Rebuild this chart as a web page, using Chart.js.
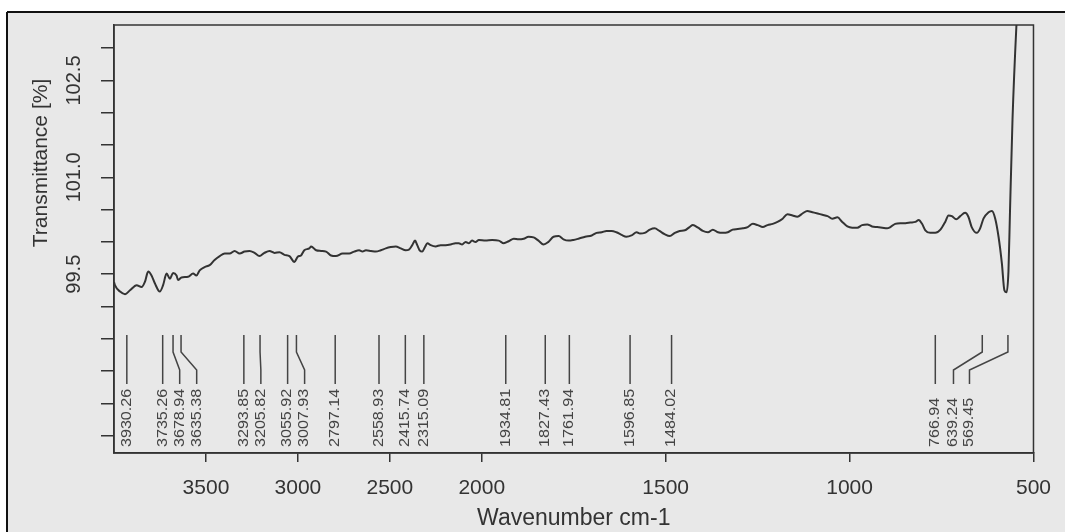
<!DOCTYPE html>
<html>
<head>
<meta charset="utf-8">
<script src="https://cdn.jsdelivr.net/npm/chart.js@4.4.0/dist/chart.umd.min.js"></script>
<style>
  body { margin: 0; background: #fff; }
  #wrap { width: 1065px; height: 532px; }
</style>
</head>
<body>
<div id="wrap"><canvas id="ir" width="1065" height="532"></canvas></div>
<script>
// spectrum (wavenumber cm-1 / transmittance %)
var wavenumber = [4000, 3995, 3967, 3940, 3913, 3877, 3850, 3832, 3814, 3796, 3778, 3751, 3733, 3714, 3696, 3679, 3660, 3652, 3633, 3597,
  3570, 3552, 3534, 3507, 3480, 3453, 3425, 3398, 3371, 3344, 3317, 3290, 3263, 3236, 3209, 3182, 3154, 3127, 3100, 3073,
  3046, 3019, 3001, 2983, 2965, 2938, 2928, 2901, 2874, 2847, 2820, 2793, 2757, 2721, 2694, 2667, 2649, 2630, 2603, 2576,
  2549, 2522, 2495, 2468, 2441, 2414, 2396, 2378, 2363, 2351, 2338, 2324, 2309, 2296, 2278, 2251, 2224, 2197, 2170, 2143,
  2125, 2107, 2088, 2070, 2053, 2034, 2016, 1990, 1972, 1954, 1940, 1927, 1913, 1900, 1886, 1873, 1859, 1846, 1832, 1819,
  1805, 1791, 1778, 1764, 1751, 1737, 1719, 1701, 1688, 1674, 1661, 1647, 1634, 1620, 1607, 1593, 1579, 1570, 1557, 1543,
  1530, 1517, 1503, 1489, 1475, 1462, 1448, 1435, 1426, 1412, 1399, 1385, 1372, 1358, 1345, 1331, 1318, 1304, 1290, 1277,
  1263, 1250, 1236, 1223, 1209, 1196, 1182, 1169, 1155, 1142, 1128, 1115, 1101, 1087, 1074, 1060, 1047, 1033, 1020, 1006,
  993, 979, 966, 952, 939, 925, 911, 898, 889, 876, 862, 848, 835, 821, 812, 803, 794, 781, 767, 753,
  740, 731, 722, 710, 699, 686, 677, 668, 654, 645, 636, 622, 613, 604, 595, 586, 579, 573, 568, 564,
  557, 546, 540, 500]
var transmittance = [99.38, 99.33, 99.23, 99.19, 99.25, 99.33, 99.30, 99.38, 99.54, 99.48, 99.36, 99.23, 99.33, 99.51, 99.43, 99.52, 99.48, 99.41, 99.45, 99.46,
  99.51, 99.48, 99.56, 99.61, 99.64, 99.72, 99.78, 99.82, 99.82, 99.86, 99.82, 99.85, 99.86, 99.83, 99.78, 99.83, 99.86, 99.83, 99.84, 99.80,
  99.78, 99.69, 99.77, 99.79, 99.87, 99.90, 99.93, 99.87, 99.86, 99.85, 99.79, 99.78, 99.82, 99.82, 99.85, 99.87, 99.85, 99.87, 99.86, 99.85,
  99.87, 99.90, 99.92, 99.93, 99.90, 99.87, 99.88, 99.95, 100.02, 99.95, 99.87, 99.85, 99.92, 99.98, 99.95, 99.93, 99.95, 99.95, 99.96, 99.98,
  99.98, 99.96, 100.00, 99.98, 100.02, 100.00, 100.03, 100.02, 100.03, 100.02, 99.98, 100.01, 100.05, 100.04, 100.05, 100.08, 100.07, 100.02, 99.96, 100.00,
  100.08, 100.09, 100.04, 100.02, 100.03, 100.05, 100.08, 100.10, 100.14, 100.15, 100.17, 100.17, 100.15, 100.11, 100.08, 100.10, 100.15, 100.13, 100.14, 100.19,
  100.21, 100.17, 100.12, 100.09, 100.14, 100.17, 100.18, 100.23, 100.26, 100.22, 100.17, 100.15, 100.19, 100.15, 100.14, 100.15, 100.19, 100.20, 100.21, 100.23,
  100.28, 100.26, 100.23, 100.26, 100.28, 100.31, 100.36, 100.43, 100.41, 100.39, 100.44, 100.48, 100.46, 100.44, 100.42, 100.40, 100.36, 100.38, 100.31, 100.24,
  100.22, 100.22, 100.26, 100.27, 100.24, 100.23, 100.22, 100.21, 100.23, 100.28, 100.29, 100.29, 100.30, 100.31, 100.34, 100.28, 100.18, 100.14, 100.14, 100.19,
  100.31, 100.41, 100.40, 100.35, 100.40, 100.45, 100.39, 100.23, 100.14, 100.21, 100.36, 100.46, 100.48, 100.36, 100.08, 99.67, 99.25, 99.22, 99.55, 100.44,
  101.90, 103.40, 104.00, 104.00]

var peaks = [3930.26, 3735.26, 3678.94, 3635.38, 3293.85, 3205.82, 3055.92, 3007.93, 2797.14, 2558.93, 2415.74, 2315.09,
  1934.81, 1827.43, 1761.94, 1596.85, 1484.02, 766.94, 639.24, 569.45]

var xTicks = [3500, 3000, 2500, 2000, 1500, 1000, 500]
var yTicks = [97.0, 97.5, 98.0, 98.5, 99.0, 99.5, 100.0, 100.5, 101.0, 101.5, 102.0, 102.5, 103.0]
var yLabels = [99.5, 101.0, 102.5]

var xTitle = 'Wavenumber cm-1'
var yTitle = 'Transmittance [%]'

// the printout halves the scale above 2000 cm-1
function toU(w) {
    return w >= 2000 ? (4000 - w) / 2 : 1000 + (2000 - w)
}
function fromU(u) {
    return u <= 1000 ? 4000 - 2 * u : 2000 - (u - 1000)
}

var points = []
for (var i = 0; i < wavenumber.length; i++) {
    points.push({ x: toU(wavenumber[i]), y: transmittance[i] })
}

var ink = '#333'
var font = 'Liberation Sans, Arial, sans-serif'

var paper = {
    id: 'paper',
    beforeDraw: function (chart) {
        var ctx = chart.ctx
        ctx.save()
        ctx.fillStyle = '#fff'
        ctx.fillRect(0, 0, chart.width, chart.height)
        ctx.fillStyle = '#e8e8e8'
        ctx.fillRect(7, 12, chart.width - 7, chart.height - 12)
        ctx.strokeStyle = '#111'
        ctx.lineWidth = 2
        ctx.beginPath()
        ctx.moveTo(7, 12)
        ctx.lineTo(chart.width, 12)
        ctx.moveTo(7, 12)
        ctx.lineTo(7, chart.height)
        ctx.stroke()
        ctx.restore()
    },
    afterDraw: function (chart) {
        var ctx = chart.ctx
        var a = chart.chartArea
        var y = chart.scales.y
        ctx.save()
        ctx.strokeStyle = ink
        ctx.lineWidth = 1.5
        ctx.strokeRect(a.left, a.top, a.right - a.left, a.bottom - a.top)

        ctx.fillStyle = ink
        ctx.textAlign = 'center'
        ctx.textBaseline = 'middle'
        ctx.font = '20px ' + font
        yLabels.forEach(function (v) {
            ctx.save()
            ctx.translate(74, y.getPixelForValue(v))
            ctx.rotate(-Math.PI / 2)
            ctx.fillText(v.toFixed(1), 0, 0)
            ctx.restore()
        })
        ctx.font = '21px ' + font
        ctx.save()
        ctx.translate(41, 163)
        ctx.rotate(-Math.PI / 2)
        ctx.fillText(yTitle, 0, 0)
        ctx.restore()
        ctx.restore()
    }
}

// peak markers with their labels, pushed apart where they crowd
var peakMarks = {
    id: 'peakMarks',
    afterDatasetsDraw: function (chart) {
        var ctx = chart.ctx
        var a = chart.chartArea
        var x = chart.scales.x
        var gap = 17
        var nat = peaks.map(function (p) { return x.getPixelForValue(toU(p)) })
        var lab = nat.slice()
        for (var i = 1; i < lab.length; i++) {
            if (lab[i] < lab[i - 1] + gap) lab[i] = lab[i - 1] + gap
        }
        var limit = a.right - 64
        for (var j = lab.length - 1; j >= 0; j--) {
            if (lab[j] > limit) lab[j] = limit
            limit = lab[j] - gap + 1
        }
        var top = a.bottom - 118, bendA = a.bottom - 101, bendB = a.bottom - 83, bot = a.bottom - 69
        ctx.save()
        ctx.strokeStyle = '#444'
        ctx.lineWidth = 1.5
        ctx.fillStyle = '#444'
        ctx.font = '14px ' + font
        ctx.textAlign = 'left'
        ctx.textBaseline = 'middle'
        peaks.forEach(function (p, k) {
            ctx.beginPath()
            ctx.moveTo(nat[k], top)
            ctx.lineTo(nat[k], bendA)
            ctx.lineTo(lab[k], bendB)
            ctx.lineTo(lab[k], bot)
            ctx.stroke()
            ctx.save()
            ctx.translate(lab[k], a.bottom - 6)
            ctx.rotate(-Math.PI / 2)
            ctx.scale(1.15, 1)
            ctx.fillText(p.toFixed(2), 0, 0)
            ctx.restore()
        })
        ctx.restore()
    }
}

new Chart(document.getElementById('ir').getContext('2d'), {
    type: 'line',
    data: {
        datasets: [
            {
                data: points,
                borderColor: ink,
                borderWidth: 2,
                pointRadius: 0,
                fill: false,
                cubicInterpolationMode: 'monotone'
            }
        ]
    },
    options: {
        responsive: false,
        animation: false,
        devicePixelRatio: 1,
        layout: { padding: { top: 25, right: 31, left: 0, bottom: 0 } },
        plugins: { legend: { display: false }, tooltip: { enabled: false } },
        scales: {
            x: {
                type: 'linear',
                min: 0,
                max: 2500,
                afterFit: function (s) { s.height = 79 },
                afterBuildTicks: function (s) {
                    s.ticks = xTicks.map(function (w) { return { value: toU(w) } })
                },
                ticks: {
                    color: ink,
                    font: { family: font, size: 21 },
                    padding: 14,
                    maxRotation: 0,
                    autoSkip: false,
                    callback: function (v) { return String(Math.round(fromU(v))) }
                },
                grid: { drawOnChartArea: false, color: ink, lineWidth: 1.5, tickLength: 9 },
                border: { color: ink, width: 1.5 },
                title: {
                    display: true,
                    text: xTitle,
                    color: ink,
                    font: { family: font, size: 23 },
                    padding: { top: 0, bottom: 0 }
                }
            },
            y: {
                min: 96.73,
                max: 103.36,
                afterFit: function (s) { s.width = 114 },
                afterBuildTicks: function (s) {
                    s.ticks = yTicks.map(function (v) { return { value: v } })
                },
                ticks: { display: false },
                grid: { drawOnChartArea: false, color: ink, lineWidth: 1.5, tickLength: 13 },
                border: { color: ink, width: 1.5 }
            }
        }
    },
    plugins: [paper, peakMarks]
})
</script>
</body>
</html>
